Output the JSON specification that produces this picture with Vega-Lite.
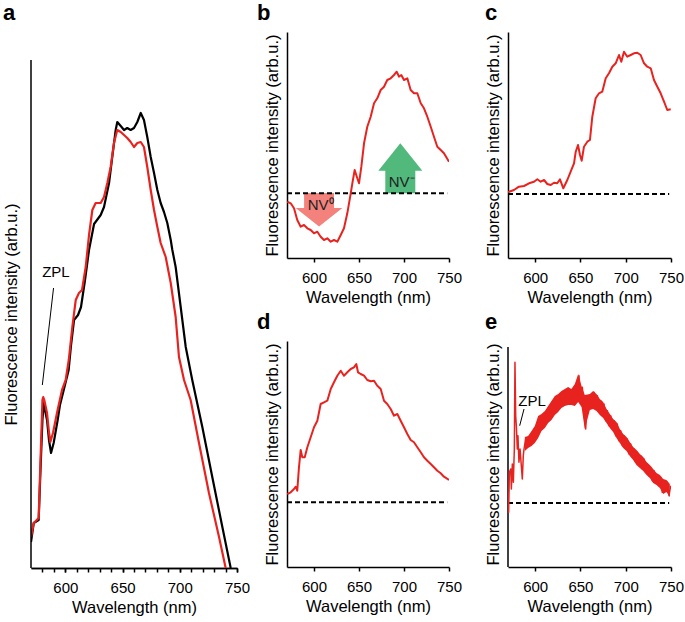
{
  "$schema": "https://vega.github.io/schema/vega-lite/v6.json",
  "padding": {"left": 3, "top": 2, "right": 0, "bottom": 0},
  "background": "white",
  "config": {
    "font": "Liberation Sans",
    "view": {"stroke": null},
    "axis": {"grid": false, "domainColor": "#000", "domainWidth": 1.5, "tickColor": "#000", "tickWidth": 1.5, "labelColor": "#000", "titleColor": "#000", "labelFont": "Liberation Sans", "titleFont": "Liberation Sans", "labelFontSize": 15, "titleFontSize": 16.5, "titleFontWeight": "normal", "minExtent": 0},
    "axisX": {"values": [580,590,600,610,620,630,640,650,660,670,680,690,700,710,720,730,740,750], "labelExpr": "datum.value % 50 === 0 ? datum.label : ''", "labelOverlap": false, "labelFlush": false, "tickSize": 4, "labelPadding": 8, "titlePadding": 4},
    "axisY": {"ticks": false, "labels": false, "titlePadding": 7, "minExtent": 0},
    "title": {"fontSize": 22, "fontWeight": "bold", "anchor": "start", "frame": "bounds", "baseline": "alphabetic", "font": "Liberation Sans", "color": "#000"}
  },
  "datasets": {
    "a_black": [{"x":570,"y":26},{"x":572.4,"y":45},{"x":576.7,"y":48},{"x":578.3,"y":98},{"x":580,"y":148},{"x":581.1,"y":165},{"x":582.2,"y":158},{"x":584,"y":148},{"x":585.7,"y":128},{"x":587.5,"y":115},{"x":589.8,"y":125},{"x":593.3,"y":148},{"x":595.3,"y":163},{"x":598.6,"y":178},{"x":602.9,"y":198},{"x":605,"y":223},{"x":607.6,"y":248},{"x":611.1,"y":253},{"x":613.7,"y":261},{"x":617.2,"y":288},{"x":620.7,"y":318},{"x":625.1,"y":344},{"x":630.9,"y":353},{"x":633.8,"y":361},{"x":638.2,"y":385},{"x":641,"y":411},{"x":644,"y":438},{"x":645.4,"y":446},{"x":648.4,"y":442},{"x":651.3,"y":438},{"x":654.1,"y":440},{"x":657.1,"y":438},{"x":660,"y":440},{"x":662.9,"y":446},{"x":665.9,"y":455},{"x":668.7,"y":448},{"x":671.6,"y":431},{"x":674.6,"y":411},{"x":677.5,"y":395},{"x":680.4,"y":378},{"x":683.3,"y":365},{"x":686.2,"y":356},{"x":689.1,"y":345},{"x":692.1,"y":328},{"x":693.5,"y":318},{"x":696.4,"y":301},{"x":700.8,"y":261},{"x":705.2,"y":221},{"x":710.9,"y":188},{"x":719.7,"y":141},{"x":728.4,"y":91},{"x":737.2,"y":41},{"x":744.5,"y":0}],
    "a_red": [{"x":570,"y":31},{"x":572.4,"y":45},{"x":576.7,"y":50},{"x":578.3,"y":108},{"x":580,"y":168},{"x":580.7,"y":171},{"x":581.6,"y":168},{"x":584,"y":155},{"x":585.7,"y":136},{"x":586.9,"y":126},{"x":589.2,"y":135},{"x":592.7,"y":155},{"x":597.1,"y":178},{"x":600.3,"y":188},{"x":603,"y":208},{"x":606.1,"y":241},{"x":609.1,"y":268},{"x":611.9,"y":275},{"x":614.6,"y":278},{"x":617.8,"y":301},{"x":620.7,"y":333},{"x":623.6,"y":358},{"x":626.5,"y":365},{"x":630.9,"y":365},{"x":633.8,"y":371},{"x":636.7,"y":385},{"x":639.6,"y":401},{"x":642.5,"y":425},{"x":645.4,"y":438},{"x":648.4,"y":436},{"x":651.3,"y":433},{"x":654.1,"y":430},{"x":657.1,"y":426},{"x":660,"y":421},{"x":662.9,"y":425},{"x":665.9,"y":426},{"x":668.7,"y":421},{"x":671.6,"y":401},{"x":674.6,"y":378},{"x":677.5,"y":358},{"x":680.4,"y":341},{"x":683.3,"y":325},{"x":687.7,"y":311},{"x":692.1,"y":285},{"x":696.4,"y":251},{"x":699.3,"y":211},{"x":703.7,"y":188},{"x":709.5,"y":168},{"x":716.8,"y":125},{"x":725.5,"y":75},{"x":734.3,"y":31},{"x":740.1,"y":0}],
    "b": [{"x":570.3,"y":56.3},{"x":574.1,"y":54.7},{"x":577.8,"y":49.7},{"x":581.4,"y":38},{"x":585.2,"y":31.3},{"x":588.9,"y":33},{"x":592.6,"y":29.7},{"x":596.3,"y":28},{"x":600,"y":24.7},{"x":603.7,"y":26.3},{"x":607.4,"y":21.3},{"x":611.1,"y":18},{"x":614.8,"y":19.7},{"x":618.6,"y":16.3},{"x":622.2,"y":18},{"x":625.9,"y":16.3},{"x":629.7,"y":23},{"x":633.3,"y":29.7},{"x":637,"y":44.7},{"x":640.8,"y":64.7},{"x":642.6,"y":74.7},{"x":645.2,"y":88},{"x":648.1,"y":79.7},{"x":650,"y":74.7},{"x":652.6,"y":91.3},{"x":655.6,"y":114.7},{"x":659.2,"y":131.3},{"x":663,"y":141.3},{"x":666.7,"y":154.7},{"x":670.3,"y":159.7},{"x":674.1,"y":168},{"x":677.8,"y":171.3},{"x":681.4,"y":178},{"x":685.2,"y":179.7},{"x":688.9,"y":183},{"x":691.9,"y":186.3},{"x":694.4,"y":181.3},{"x":697,"y":183},{"x":700,"y":178},{"x":703.7,"y":179.7},{"x":707.4,"y":168},{"x":711.1,"y":164.7},{"x":714.8,"y":164.7},{"x":718.6,"y":154.7},{"x":722.2,"y":149.7},{"x":725.9,"y":141.3},{"x":729.7,"y":131.3},{"x":733.3,"y":121.3},{"x":737,"y":111.3},{"x":740.8,"y":108},{"x":744.4,"y":104.7},{"x":750,"y":96.3}],
    "c": [{"x":570,"y":66},{"x":571.1,"y":66.3},{"x":576.6,"y":68},{"x":582.1,"y":71.3},{"x":587.7,"y":72},{"x":593.2,"y":74.7},{"x":598.7,"y":76.3},{"x":602.4,"y":78.7},{"x":606.1,"y":76.3},{"x":609.8,"y":78},{"x":613.4,"y":74},{"x":617.2,"y":73},{"x":620.8,"y":75.3},{"x":624.4,"y":74.7},{"x":627.4,"y":78.7},{"x":631.1,"y":69.7},{"x":635.5,"y":78},{"x":639.2,"y":86.3},{"x":642.9,"y":94.7},{"x":644.8,"y":106.3},{"x":647.3,"y":113},{"x":649.5,"y":103},{"x":651.4,"y":97.3},{"x":653.9,"y":111.3},{"x":657.6,"y":116.3},{"x":660.5,"y":118},{"x":663.1,"y":141.3},{"x":666.8,"y":159.7},{"x":670.5,"y":164.7},{"x":674.1,"y":166.3},{"x":677.9,"y":179.7},{"x":681.5,"y":184.7},{"x":685.2,"y":191.3},{"x":688.9,"y":194.7},{"x":692.6,"y":203},{"x":695.1,"y":196.3},{"x":698.1,"y":206.3},{"x":701.7,"y":201.3},{"x":705.5,"y":203},{"x":709.1,"y":204.7},{"x":712.8,"y":205.3},{"x":716.5,"y":203},{"x":720.2,"y":194.7},{"x":723.8,"y":191.3},{"x":727.6,"y":189.7},{"x":731.2,"y":178},{"x":734.9,"y":171.3},{"x":738.6,"y":164.7},{"x":742.3,"y":156.3},{"x":745.9,"y":148},{"x":749.7,"y":148.7}],
    "d": [{"x":570.3,"y":73},{"x":574.1,"y":74.7},{"x":577.8,"y":78},{"x":579.7,"y":80.3},{"x":581.4,"y":76.3},{"x":583.3,"y":99.7},{"x":585.2,"y":117},{"x":587,"y":109.7},{"x":589.7,"y":109.7},{"x":592.6,"y":119.7},{"x":596.3,"y":129.7},{"x":600,"y":139.7},{"x":603.7,"y":146.3},{"x":607.4,"y":163},{"x":611.1,"y":164.7},{"x":614.8,"y":166.3},{"x":618.6,"y":178},{"x":622.2,"y":184.7},{"x":625.9,"y":191.3},{"x":629.7,"y":196.3},{"x":633.3,"y":191.3},{"x":637,"y":194.7},{"x":640.8,"y":198},{"x":644.4,"y":199.7},{"x":647,"y":203},{"x":648.9,"y":194.7},{"x":651.9,"y":193},{"x":655.6,"y":191.3},{"x":659.2,"y":187},{"x":663,"y":185.7},{"x":666.7,"y":186.3},{"x":670.3,"y":181.3},{"x":674.1,"y":178},{"x":677.8,"y":166.3},{"x":681.4,"y":163},{"x":685.2,"y":158},{"x":688.9,"y":151.3},{"x":692.6,"y":153},{"x":696.3,"y":146.3},{"x":700,"y":139.7},{"x":703.7,"y":133},{"x":707.4,"y":127},{"x":711.1,"y":124.7},{"x":714.8,"y":119.7},{"x":718.6,"y":114.7},{"x":722.2,"y":109.7},{"x":725.9,"y":106.3},{"x":729.7,"y":103},{"x":733.3,"y":99.7},{"x":737,"y":96.3},{"x":740.8,"y":93.7},{"x":744.4,"y":90.3},{"x":750,"y":87}],
    "e": [{"x":570,"y":74.7},{"x":570.7,"y":54.7},{"x":571.5,"y":94.7},{"x":573,"y":98},{"x":573.7,"y":78},{"x":574.8,"y":103},{"x":575.9,"y":84.7},{"x":577,"y":118},{"x":577.7,"y":204.7},{"x":578.5,"y":151.3},{"x":579.2,"y":141.3},{"x":580.3,"y":118},{"x":581,"y":131.3},{"x":582.1,"y":104.7},{"x":583.3,"y":118},{"x":584.7,"y":101.3},{"x":585.8,"y":88},{"x":586.9,"y":111.3},{"x":587.7,"y":118},{"x":589.5,"y":128},{"x":591.3,"y":121.3},{"x":593.2,"y":129.7},{"x":595,"y":123},{"x":596.9,"y":134.7},{"x":598.7,"y":126.3},{"x":600.6,"y":139.7},{"x":602.4,"y":131.3},{"x":604.3,"y":149.7},{"x":606.1,"y":138},{"x":607.9,"y":151.3},{"x":609.8,"y":141.3},{"x":611.6,"y":154.7},{"x":613.4,"y":146.3},{"x":615.3,"y":159.7},{"x":617.1,"y":149.7},{"x":619,"y":164.7},{"x":620.8,"y":154.7},{"x":622.6,"y":169.7},{"x":624.5,"y":158},{"x":626.3,"y":171.3},{"x":628.2,"y":161.3},{"x":630,"y":174.7},{"x":631.8,"y":163},{"x":633.7,"y":176.3},{"x":635.5,"y":164.7},{"x":637.4,"y":178},{"x":639.2,"y":164.7},{"x":641,"y":176.3},{"x":642.9,"y":163},{"x":644.7,"y":181.3},{"x":646.6,"y":168},{"x":648.4,"y":191.3},{"x":650.3,"y":164.7},{"x":652.1,"y":179.7},{"x":653.9,"y":154.7},{"x":655.8,"y":138},{"x":657.6,"y":168},{"x":659.5,"y":159.7},{"x":661.3,"y":171.3},{"x":663.1,"y":161.3},{"x":665,"y":174.7},{"x":666.8,"y":158},{"x":668.7,"y":171.3},{"x":670.5,"y":154.7},{"x":672.3,"y":166.3},{"x":674.2,"y":151.3},{"x":676,"y":163},{"x":677.9,"y":146.3},{"x":679.7,"y":156.3},{"x":681.5,"y":141.3},{"x":683.4,"y":151.3},{"x":685.2,"y":138},{"x":687.1,"y":146.3},{"x":688.9,"y":131.3},{"x":690.7,"y":143},{"x":692.6,"y":126.3},{"x":694.4,"y":136.3},{"x":696.3,"y":121.3},{"x":698.1,"y":131.3},{"x":700,"y":118},{"x":701.8,"y":128},{"x":703.6,"y":113},{"x":705.5,"y":123},{"x":707.3,"y":109.7},{"x":709.2,"y":118},{"x":711,"y":104.7},{"x":712.8,"y":114.7},{"x":714.7,"y":101.3},{"x":716.5,"y":111.3},{"x":718.4,"y":98},{"x":720.2,"y":108},{"x":722,"y":94.7},{"x":723.9,"y":103},{"x":725.7,"y":91.3},{"x":727.6,"y":99.7},{"x":729.4,"y":86.3},{"x":731.2,"y":96.3},{"x":733.1,"y":84.7},{"x":734.9,"y":91.3},{"x":736.8,"y":81.3},{"x":738.6,"y":89.7},{"x":740.4,"y":74.7},{"x":742.3,"y":86.3},{"x":744.1,"y":78},{"x":746,"y":84.7},{"x":747.8,"y":71.3},{"x":749.6,"y":81.3}],
    "e_band": [{"x":588.6,"lo":116,"hi":130},{"x":592.2,"lo":119,"hi":131},{"x":596,"lo":121,"hi":136},{"x":599.6,"lo":124,"hi":141},{"x":603.3,"lo":129,"hi":151},{"x":607,"lo":136,"hi":153},{"x":610.7,"lo":139,"hi":156},{"x":614.3,"lo":144,"hi":161},{"x":618,"lo":147,"hi":166},{"x":621.7,"lo":152,"hi":171},{"x":625.4,"lo":155,"hi":173},{"x":629,"lo":159,"hi":176},{"x":632.7,"lo":161,"hi":178},{"x":636.4,"lo":162,"hi":180},{"x":640,"lo":162,"hi":178},{"x":643.8,"lo":161,"hi":183},{"x":647.5,"lo":165,"hi":193},{"x":651.2,"lo":160,"hi":181},{"x":654.8,"lo":138,"hi":172},{"x":660.4,"lo":157,"hi":173},{"x":664,"lo":158,"hi":176},{"x":667.7,"lo":156,"hi":173},{"x":671.4,"lo":152,"hi":168},{"x":675.1,"lo":149,"hi":165},{"x":678.8,"lo":144,"hi":158},{"x":682.5,"lo":139,"hi":153},{"x":686.1,"lo":135,"hi":148},{"x":689.8,"lo":129,"hi":145},{"x":693.5,"lo":124,"hi":138},{"x":697.2,"lo":119,"hi":133},{"x":700.9,"lo":116,"hi":130},{"x":704.5,"lo":111,"hi":125},{"x":708.2,"lo":107,"hi":120},{"x":711.9,"lo":102,"hi":117},{"x":715.6,"lo":99,"hi":113},{"x":719.3,"lo":96,"hi":110},{"x":723,"lo":92,"hi":105},{"x":726.6,"lo":89,"hi":102},{"x":730.3,"lo":84,"hi":98},{"x":734,"lo":82,"hi":94},{"x":737.7,"lo":79,"hi":92},{"x":741.4,"lo":73,"hi":88},{"x":745,"lo":75,"hi":87},{"x":748.7,"lo":70,"hi":83}]
  },
  "spacing": 7,
  "hconcat": [
    {
      "width": 206,
      "height": 536,
      "title": {"text": "a", "offset": 7},
      "resolve": {"axis": {"x": "independent"}},
      "encoding": {
        "y": {"field": "y", "type": "quantitative", "scale": {"domain": [0, 536], "nice": false, "zero": false}, "axis": {"title": "Fluorescence intensity (arb.u.)", "titlePadding": 12, "domain": false, "titleY": 282}}
      },
      "layer": [
        {"data": {"name": "a_black"}, "mark": {"type": "line", "color": "#000000", "strokeWidth": 2.2, "clip": true, "strokeJoin": "round"},
         "encoding": {"x": {"field": "x", "type": "quantitative", "scale": {"domain": [570, 750], "nice": false, "zero": false}, "axis": {"orient": "bottom", "values": [580,590,600,610,620,630,640,650,660,670,680,690,700,710,720,730,740,750], "labels": false, "title": null, "tickSize": 4}}}},
        {"data": {"name": "a_red"}, "mark": {"type": "line", "color": "#e8231f", "strokeWidth": 2.2, "clip": true, "strokeJoin": "round"},
         "encoding": {"x": {"field": "x", "type": "quantitative", "scale": {"domain": [570, 750], "nice": false, "zero": false}, "axis": {"orient": "bottom", "values": [600, 650, 700, 750], "labelExpr": "datum.label", "labelOverlap": false, "title": "Wavelength (nm)", "tickSize": 4}}}},
        {"data": {"values": [{"x": 570, "y": 0, "y2": 508}]}, "mark": {"type": "rule", "color": "#000", "strokeWidth": 1.5},
         "encoding": {"x": {"field": "x", "type": "quantitative", "axis": null}, "y2": {"field": "y2"}}},
        {"data": {"values": [{"x": 579.9, "y": 183, "x2": 589.7, "y2": 280}]}, "mark": {"type": "rule", "color": "#000", "strokeWidth": 1},
         "encoding": {"x": {"field": "x", "type": "quantitative", "axis": null}, "x2": {"field": "x2"}, "y2": {"field": "y2"}}},
        {"data": {"values": [{"x": 591.8, "y": 296, "t": "ZPL"}]}, "mark": {"type": "text", "fontSize": 15, "color": "#000"},
         "encoding": {"x": {"field": "x", "type": "quantitative", "axis": null}, "text": {"field": "t"}}}
      ]
    },
    {
      "columns": 2,
      "spacing": {"row": 5, "column": 23},
      "concat": [
        {
          "width": 162,
          "height": 226,
          "title": {"text": "b", "offset": 7, "dx": -7},
          "encoding": {
            "x": {"field": "x", "type": "quantitative", "scale": {"domain": [570, 750], "nice": false, "zero": false}, "axis": {"title": "Wavelength (nm)", "labelOverlap": false}},
            "y": {"field": "y", "type": "quantitative", "scale": {"domain": [0, 226], "nice": false, "zero": false}, "axis": {"title": "Fluorescence intensity (arb.u.)"}}
          },
          "layer": [
            {"data": {"values": [{"x": 605.6, "y": 48.2}]}, "mark": {"type": "point", "shape": "M -0.64 -0.72 L 0.64 -0.72 L 0.64 -0.08 L 1 -0.08 L 0 0.72 L -1 -0.08 L -0.64 -0.08 Z", "size": 2180, "filled": true, "color": "#f4827c", "opacity": 1, "strokeWidth": 0}},
            {"data": {"values": [{"x": 695.9, "y": 89.7}]}, "mark": {"type": "point", "shape": "M 0 -1 L 0.88 0.1 L 0.6 0.1 L 0.6 1 L -0.6 1 L -0.6 0.1 L -0.88 0.1 Z", "size": 2500, "filled": true, "color": "#50b97b", "opacity": 1, "strokeWidth": 0}},
            {"data": {"values": [{"x": 570, "x2": 748, "y": 64.7}]}, "mark": {"type": "rule", "color": "#000", "strokeWidth": 2, "strokeDash": [5, 3]}, "encoding": {"x2": {"field": "x2"}}},
            {"data": {"name": "b"}, "mark": {"type": "line", "color": "#e8231f", "strokeWidth": 2, "clip": true, "strokeJoin": "round"}},
            {"data": {"values": [{"x": 607.4, "y": 53, "t": "NV⁰"}, {"x": 697.4, "y": 75.7, "t": "NV⁻"}]}, "mark": {"type": "text", "fontSize": 15, "color": "#222"}, "encoding": {"text": {"field": "t"}}}
          ]
        },
        {
          "width": 163,
          "height": 226,
          "title": {"text": "c", "offset": 7},
          "encoding": {
            "x": {"field": "x", "type": "quantitative", "scale": {"domain": [570, 750], "nice": false, "zero": false}, "axis": {"title": "Wavelength (nm)", "labelOverlap": false}},
            "y": {"field": "y", "type": "quantitative", "scale": {"domain": [0, 226], "nice": false, "zero": false}, "axis": {"title": "Fluorescence intensity (arb.u.)"}}
          },
          "layer": [
            {"data": {"values": [{"x": 570, "x2": 748, "y": 64}]}, "mark": {"type": "rule", "color": "#000", "strokeWidth": 2, "strokeDash": [5, 3]}, "encoding": {"x2": {"field": "x2"}}},
            {"data": {"name": "c"}, "mark": {"type": "line", "color": "#e8231f", "strokeWidth": 2, "clip": true, "strokeJoin": "round"}}
          ]
        },
        {
          "width": 162,
          "height": 226,
          "title": {"text": "d", "offset": 7, "dx": -7},
          "encoding": {
            "x": {"field": "x", "type": "quantitative", "scale": {"domain": [570, 750], "nice": false, "zero": false}, "axis": {"title": "Wavelength (nm)", "labelOverlap": false}},
            "y": {"field": "y", "type": "quantitative", "scale": {"domain": [0, 226], "nice": false, "zero": false}, "axis": {"title": "Fluorescence intensity (arb.u.)"}}
          },
          "layer": [
            {"data": {"values": [{"x": 570, "x2": 748, "y": 64.7}]}, "mark": {"type": "rule", "color": "#000", "strokeWidth": 2, "strokeDash": [5, 3]}, "encoding": {"x2": {"field": "x2"}}},
            {"data": {"name": "d"}, "mark": {"type": "line", "color": "#e8231f", "strokeWidth": 2, "clip": true, "strokeJoin": "round"}}
          ]
        },
        {
          "width": 163,
          "height": 226,
          "title": {"text": "e", "offset": 7},
          "encoding": {
            "x": {"field": "x", "type": "quantitative", "scale": {"domain": [570, 750], "nice": false, "zero": false}, "axis": {"title": "Wavelength (nm)", "labelOverlap": false}},
            "y": {"field": "y", "type": "quantitative", "scale": {"domain": [0, 226], "nice": false, "zero": false}, "axis": {"title": "Fluorescence intensity (arb.u.)", "domain": false}}
          },
          "layer": [
            {"data": {"values": [{"x": 570, "y": 0, "y2": 220}]}, "mark": {"type": "rule", "color": "#000", "strokeWidth": 1.5}, "encoding": {"y2": {"field": "y2"}}},
            {"data": {"values": [{"x": 570, "x2": 748, "y": 64}]}, "mark": {"type": "rule", "color": "#000", "strokeWidth": 2, "strokeDash": [5, 3]}, "encoding": {"x2": {"field": "x2"}}},
            {"data": {"name": "e_band"}, "mark": {"type": "area", "color": "#e8231f", "opacity": 1, "clip": true}, "encoding": {"y": {"field": "lo", "type": "quantitative"}, "y2": {"field": "hi"}}},
            {"data": {"name": "e"}, "mark": {"type": "line", "color": "#e8231f", "strokeWidth": 1.5, "clip": true, "strokeJoin": "round"}},
            {"data": {"values": [{"x": 582.9, "y": 141.3, "x2": 587.7, "y2": 158}]}, "mark": {"type": "rule", "color": "#000", "strokeWidth": 1}, "encoding": {"x2": {"field": "x2"}, "y2": {"field": "y2"}}},
            {"data": {"values": [{"x": 596.5, "y": 166, "t": "ZPL"}]}, "mark": {"type": "text", "fontSize": 15, "color": "#000"}, "encoding": {"text": {"field": "t"}}}
          ]
        }
      ]
    }
  ]
}
